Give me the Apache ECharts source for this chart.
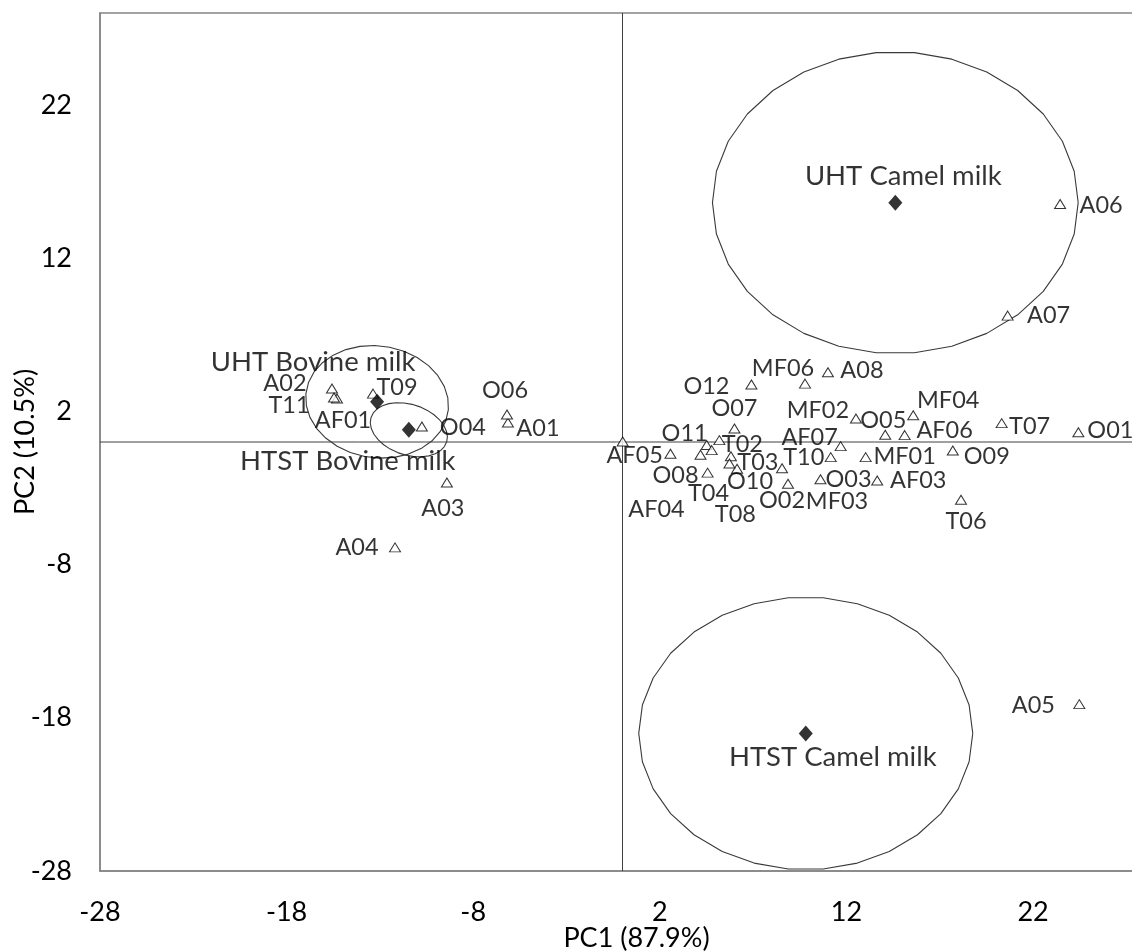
<!DOCTYPE html>
<html>
<head>
<meta charset="utf-8">
<script src="https://cdn.jsdelivr.net/npm/echarts@6/dist/echarts.min.js"></script>
<style>
  html, body { margin: 0; padding: 0; background: #ffffff; }
  #chart { width: 1132px; height: 951px; }
</style>
</head>
<body>
<div id="chart"></div>
<script>
// PCA score plot: individual milk samples (triangles) and group centroids (diamonds)
const sampleNames = [
  'A01', 'A02', 'A03', 'A04', 'AF01', 'O04', 'O06', 'T09', 'T11',
  'A05', 'A06', 'A07', 'A08', 'AF03', 'AF04', 'AF05', 'AF06', 'AF07',
  'MF01', 'MF02', 'MF03', 'MF04', 'MF06',
  'O01', 'O02', 'O03', 'O05', 'O07', 'O08', 'O09', 'O10', 'O11', 'O12',
  'T02', 'T03', 'T04', 'T06', 'T07', 'T08', 'T10', ''
];
const samplePC1 = [
  -6.14, -15.57, -9.41, -12.19, -15.30, -10.75, -6.19, -13.37, -15.46,
  24.48, 23.45, 20.64, 11.01, 13.65, 2.57, 0.01, 15.12, 11.69,
  13.03, 12.51, 8.55, 15.58, 9.78,
  24.43, 8.87, 10.61, 14.08, 6.00, 4.56, 17.70, 6.14, 4.51, 6.91,
  5.19, 5.81, 4.18, 18.14, 20.32, 5.73, 11.16, 4.78
];
const samplePC2 = [
  1.27, 3.49, -2.64, -6.88, 2.84, 1.01, 1.79, 3.16, 2.90,
  -17.11, 15.53, 8.25, 4.55, -2.51, -0.77, 0.03, 0.45, -0.27,
  -0.99, 1.53, -1.71, 1.75, 3.81,
  0.64, -2.72, -2.43, 0.47, 0.88, -2.00, -0.55, -1.75, -0.20, 3.75,
  0.12, -0.93, -0.83, -3.77, 1.23, -1.40, -0.99, -0.53
];

// Group centroids and their confidence ellipses
const groupNames = ['UHT Bovine milk', 'HTST Bovine milk', 'UHT Camel milk', 'HTST Camel milk'];
const groupPC1 = [-13.15, -11.45, 14.62, 9.82];
const groupPC2 = [2.62, 0.80, 15.62, -19.02];
const ellipseSemiA = [3.9, 2.2, 9.8, 8.95];
const ellipseSemiB = [3.6, 1.6, 9.85, 8.9];
const ellipseTiltDeg = [-30, -30, 0, 0];

// Axis settings
const axisMin = -28;
const axisMax = 28;
const axisStep = 10;
const xAxisTitle = 'PC1 (87.9%)';
const yAxisTitle = 'PC2 (10.5%)';

// Label placement (pixel offsets from each marker)
const sampleLabelOffset = {
  A01: [30, 6], A02: [-47, -5], A03: [-4, 26], A04: [-38, 0], AF01: [6, 22],
  O04: [41, 1], O06: [-2, -24], T09: [24, -6], T11: [-45, 8],
  A05: [-46, 1], A06: [41, 1], A07: [41, 0], A08: [34, -2], AF03: [41, 0],
  AF04: [-14, 56], AF05: [12, 14], AF06: [40, -5], AF07: [-31, -9],
  MF01: [39, -1], MF02: [-38, -8], MF03: [55, 33], MF04: [35, -15], MF06: [-22, -15],
  O01: [32, -2], O02: [-6, 17], O03: [28, 0], O05: [-2, -14], O07: [0, -20],
  O08: [-32, 3], O09: [34, 6], O10: [13, 13], O11: [-22, -12], O12: [-45, 2],
  T02: [23, 4], T03: [27, 6], T04: [8, 39], T06: [5, 22], T07: [28, 3],
  T08: [6, 51], T10: [-27, 0]
};
const groupLabelOffset = [[-64, -40], [-61, 31], [8, -27], [27, 24]];

const FONT = 'Lato, "Open Sans", sans-serif';
const AXIS_GREY = '#858585';

function ellipseOutline(cx, cy, a, b, tiltDeg, segments) {
  const t = tiltDeg * Math.PI / 180;
  const pts = [];
  for (let i = 0; i <= segments; i++) {
    const th = 2 * Math.PI * i / segments;
    const u = a * Math.cos(th), v = b * Math.sin(th);
    pts.push([cx + u * Math.cos(t) - v * Math.sin(t), cy + u * Math.sin(t) + v * Math.cos(t)]);
  }
  return pts;
}

const sampleData = sampleNames.map((n, i) => ({
  name: n,
  value: [samplePC1[i], samplePC2[i]],
  label: { show: n !== '', offset: sampleLabelOffset[n] || [0, 0] }
}));

const groupData = groupNames.map((n, i) => ({
  name: n,
  value: [groupPC1[i], groupPC2[i]],
  label: { offset: groupLabelOffset[i] }
}));

const ellipseSeries = groupNames.map((n, i) => ({
  type: 'line',
  name: n + ' ellipse',
  data: ellipseOutline(groupPC1[i], groupPC2[i], ellipseSemiA[i], ellipseSemiB[i], ellipseTiltDeg[i], 30),
  showSymbol: false,
  symbol: 'none',
  lineStyle: { color: '#3a3a3a', width: 1.1 },
  silent: true,
  z: 2
}));

const zeroLines = [
  { type: 'line', data: [[0, axisMin], [0, axisMax]] },
  { type: 'line', data: [[axisMin, 0], [axisMax, 0]] }
].map(s => Object.assign(s, {
  symbol: 'none', showSymbol: false, silent: true,
  lineStyle: { color: '#404040', width: 1 }, z: 1
}));

const chart = echarts.init(document.getElementById('chart'), null, { renderer: 'canvas' });
chart.setOption({
  animation: false,
  backgroundColor: '#ffffff',
  grid: {
    left: 100, top: 13, right: -13, bottom: 80,
    show: true, borderColor: AXIS_GREY, borderWidth: 1.5,
    containLabel: false, outerBoundsMode: 'none'
  },
  xAxis: {
    type: 'value', min: axisMin, max: axisMax, interval: axisStep,
    name: xAxisTitle, nameLocation: 'middle', nameGap: 54, nameMoveOverlap: false,
    nameTextStyle: { fontFamily: FONT, fontSize: 27, color: '#000', padding: [0, 0, 0, 28] },
    axisLine: { show: true, onZero: false, lineStyle: { color: AXIS_GREY, width: 1.5 } },
    axisTick: { show: false },
    splitLine: { show: false },
    axisLabel: { fontFamily: FONT, fontSize: 27, color: '#000', margin: 28, showMaxLabel: false, showMinLabel: true }
  },
  yAxis: {
    type: 'value', min: axisMin, max: axisMax, interval: axisStep,
    name: yAxisTitle, nameLocation: 'middle', nameGap: 61, nameRotate: 90, nameMoveOverlap: false,
    nameTextStyle: { fontFamily: FONT, fontSize: 27, color: '#000' },
    axisLine: { show: true, onZero: false, lineStyle: { color: AXIS_GREY, width: 1.5 } },
    axisTick: { show: false },
    splitLine: { show: false },
    axisLabel: { fontFamily: FONT, fontSize: 27, color: '#000', margin: 28, showMaxLabel: false, showMinLabel: true }
  },
  series: [
    ...zeroLines,
    ...ellipseSeries,
    {
      type: 'scatter',
      name: 'samples',
      data: sampleData,
      symbol: 'triangle',
      symbolSize: [11, 9],
      itemStyle: { color: '#ffffff', borderColor: '#000000', borderWidth: 1 },
      label: {
        show: true, position: 'inside', formatter: '{b}',
        fontFamily: FONT, fontSize: 23.5, color: '#000'
      },
      emphasis: { disabled: true },
      z: 4
    },
    {
      type: 'scatter',
      name: 'centroids',
      data: groupData,
      symbol: 'diamond',
      symbolSize: [14, 16],
      itemStyle: { color: '#000000' },
      label: {
        show: true, position: 'inside', formatter: '{b}',
        fontFamily: FONT, fontSize: 27.5, color: '#000'
      },
      emphasis: { disabled: true },
      z: 5
    }
  ]
});
</script>
</body>
</html>
